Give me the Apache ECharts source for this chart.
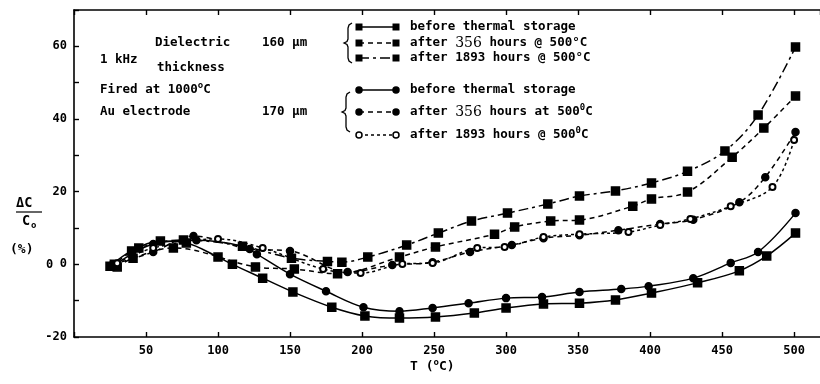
<!DOCTYPE html>
<html><head><meta charset="utf-8">
<script src="https://cdn.jsdelivr.net/npm/echarts@6/dist/echarts.min.js"></script>
<style>html,body{margin:0;padding:0;background:#fff}#c{width:820px;height:384px}</style>
</head><body><div id="c"></div>
<script>
// ---- data (T in °C, ΔC/C0 in %) ----
const tA=[25,40,60,78,100,110,131,152,179,202,226,251,278,300,326,351,376,401,433,462,481,501];
const vA=[-0.5,3.7,6.4,5.9,2.0,0.0,-3.8,-7.6,-11.8,-14.2,-14.8,-14.5,-13.4,-12.0,-10.9,-10.7,-9.8,-7.9,-5.1,-1.8,2.3,8.6];
const tB=[27,55,85,117,127,150,175,201,226,249,274,300,325,351,380,399,430,456,475,501];
const vB=[-0.5,5.6,6.6,5.0,2.8,-2.7,-7.4,-11.8,-12.9,-12.0,-10.7,-9.3,-9.0,-7.6,-6.8,-6.0,-3.8,0.4,3.4,14.1];
const tC=[30,41,69,126,153,183,226,251,292,306,331,351,388,401,426,457,479,501];
const vC=[-0.7,1.7,4.5,-0.7,-1.3,-2.6,2.0,4.8,8.3,10.3,11.9,12.2,16.0,18.0,19.9,29.5,37.5,46.3];
const tD=[28,45,76,117,151,176,186,204,231,253,276,301,329,351,376,401,426,452,475,501];
const vD=[0.0,4.5,6.7,5.0,1.7,0.8,0.6,2.0,5.3,8.6,11.9,14.1,16.6,18.8,20.2,22.4,25.6,31.2,41.1,59.8];
const tE=[27,55,83,122,150,190,221,249,275,304,326,351,378,407,430,462,480,501];
const vE=[0.0,3.4,7.8,4.2,3.7,-2.1,-0.2,0.6,3.4,5.3,7.2,8.0,9.4,11.1,12.3,17.1,24.0,36.4];
const tF=[30,55,100,131,173,199,228,249,280,299,326,351,385,407,428,456,485,500];
const vF=[0.3,4.5,7.0,4.5,-1.3,-2.4,0.1,0.4,4.5,4.8,7.5,8.3,8.9,10.8,12.5,16.0,21.3,34.2];
const seriesNames=['160 µm before thermal storage','160 µm after 356 h','160 µm after 1893 h',
  '170 µm before thermal storage','170 µm after 356 h','170 µm after 1893 h'];
const legendTexts=[
  'before thermal storage',
  'after {n|356} hours @ 500°C',
  'after 1893 hours @ 500°C',
  'before thermal storage',
  'after {n|356} hours at 500{s|0}C',
  'after 1893 hours @ 500{s|0}C'];
const xTickStep=50, yTickStep=10;

// ---- styling / layout ----
const MONO='"DejaVu Sans Mono", monospace';
const pairs=(t,v)=>t.map((x,i)=>[x,v[i]]);
const styles=[
  {sym:'rect',size:8,dash:'solid'},
  {sym:'rect',size:8,dash:[5,4]},
  {sym:'rect',size:8,dash:[10,4,3,4]},
  {sym:'circle',size:7,dash:'solid'},
  {sym:'circle',size:7,dash:[5,4]},
  {sym:'emptyCircle',size:6,dash:[3,3]}];
const sets=[[tA,vA],[tC,vC],[tD,vD],[tB,vB],[tE,vE],[tF,vF]];
const series=sets.map((s,i)=>({
  name:seriesNames[i], type:'line', data:pairs(s[0],s[1]), smooth:0.35,
  symbol:styles[i].sym, symbolSize:styles[i].size, showSymbol:true,
  lineStyle:{color:'#000',width:1.5,type:styles[i].dash},
  itemStyle:{color:'#000',borderColor:'#000',borderWidth:1.5},
  emphasis:{disabled:true}, animation:false
}));

const g=[];
const RICH={s:{fontSize:9,fontWeight:'bold',fontFamily:MONO,padding:[0,0,9,0]},
        n:{fontSize:14,fontWeight:'normal',fontFamily:'"DejaVu Serif", serif'}};
const txt=(x,y,text,font)=>g.push({type:'text',style:{
  x:x,y:y,text:text,fill:'#000',font:font||('bold 12.5px '+MONO),textVerticalAlign:'middle',verticalAlign:'middle',rich:RICH}});
txt(155,43,'Dielectric'); txt(262,43,'160 µm');
txt(100,60,'1 kHz'); txt(157,68,'thickness');
txt(100,90,'Fired at 1000{s|o}C');
txt(100,112,'Au electrode'); txt(262,112,'170 µm');
const rowY=[27,43,58,90,112,135];
legendTexts.forEach((t,i)=>{
  const y=rowY[i], st=styles[i];
  g.push({type:'line',shape:{x1:359,y1:y,x2:396,y2:y},style:{stroke:'#000',lineWidth:1.4,lineDash:st.dash==='solid'?null:st.dash}});
  [359,396].forEach(x=>{
    if(st.sym==='rect') g.push({type:'rect',shape:{x:x-3.5,y:y-3.5,width:7,height:7},style:{fill:'#000'}});
    else g.push({type:'circle',shape:{cx:x,cy:y,r:3},style:{fill:st.sym==='emptyCircle'?'#fff':'#000',stroke:'#000',lineWidth:1.5}});
  });
  txt(410,y,t);
});
const brace=(cx,cy,h)=>g.push({type:'polyline',shape:{points:[
  [cx+4,cy-h],[cx+1,cy-h+2],[cx,cy-h+5],[cx,cy-4],[cx-1,cy-1.5],[cx-4,cy],[cx-1,cy+1.5],[cx,cy+4],[cx,cy+h-5],[cx+1,cy+h-2],[cx+4,cy+h]]},
  style:{fill:null,stroke:'#000',lineWidth:1.3}});
brace(348,43,20); brace(346,112,20);
// axis titles
txt(16,203,'ΔC','bold 13.5px '+MONO);
g.push({type:'line',shape:{x1:16,y1:212,x2:42,y2:212},style:{stroke:'#000',lineWidth:1.2}});
txt(22,221,'C','bold 13.5px '+MONO); txt(31,226,'o','bold 9px '+MONO);
txt(10,250,'(%)','bold 13px '+MONO);
txt(46,265,'0','bold 12px '+MONO);
txt(410,367,'T ({s|o}C)','bold 13px '+MONO);

const chart=echarts.init(document.getElementById('c'),null,{renderer:'canvas'});
const axisFont={fontFamily:MONO,fontWeight:'bold',fontSize:12,color:'#000'};
chart.setOption({
  animation:false,
  grid:{left:74,right:0,top:10,bottom:47},
  xAxis:[
    {type:'value',min:0,max:518,interval:xTickStep,position:'bottom',
     axisLine:{show:true,onZero:false,lineStyle:{color:'#000',width:1.6}},
     axisTick:{show:true,inside:true,length:5,lineStyle:{color:'#000',width:1.4}},
     axisLabel:Object.assign({margin:8,showMaxLabel:false,formatter:v=>(v>0&&v%50===0)?String(v):''},axisFont),
     splitLine:{show:false}},
    {type:'value',min:0,max:518,interval:xTickStep,position:'top',
     axisLine:{show:true,onZero:false,lineStyle:{color:'#000',width:1.6}},
     axisTick:{show:true,inside:true,length:5,lineStyle:{color:'#000',width:1.4}},
     axisLabel:{show:false},splitLine:{show:false}}],
  yAxis:{type:'value',min:-20,max:70,interval:yTickStep,
     axisLine:{show:true,onZero:false,lineStyle:{color:'#000',width:1.6}},
     axisTick:{show:true,inside:true,length:5,lineStyle:{color:'#000',width:1.4}},
     axisLabel:Object.assign({margin:7,formatter:v=>(v%20===0)?String(v):''},axisFont),
     splitLine:{show:false}},
  series:series,
  graphic:g
});
</script></body></html>
